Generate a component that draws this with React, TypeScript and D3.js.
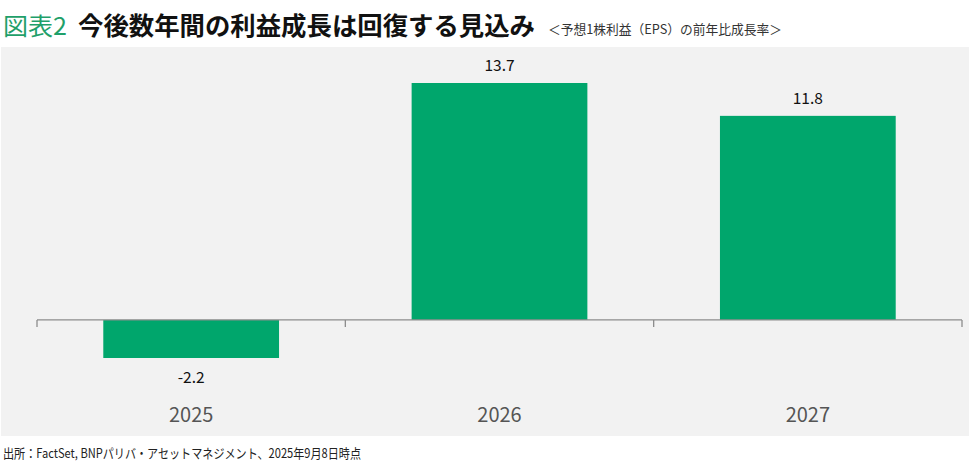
import React from "react";
import * as d3 from "d3";

const categories = ["2025", "2026", "2027"];
const values = [-2.2, 13.7, 11.8];
const valueLabels = ["-2.2", "13.7", "11.8"];

const W = 969;
const H = 465;

export default function App() {
  const x = d3.scaleBand<string>().domain(categories).range([37, 962]).paddingInner(0.43).paddingOuter(0.215);
  const y = d3.scaleLinear().domain([-2.2, 13.7]).range([358, 83]);
  const y0 = y(0);
  const bandStep = (962 - 37) / categories.length;
  const ticks = d3.range(categories.length + 1).map((i) => 37 + i * bandStep);
  const font = "'Noto Sans CJK JP', 'Noto Sans', sans-serif";

  return (
    <svg width={W} height={H} style={{ position: "absolute", left: 0, top: 0, background: "#fff" }}>
      <rect x={1} y={47} width={968} height={389} fill="#f2f2f2" />
      <text x={3} y={35} fontFamily={font} fontSize={24} fill="#1fa06a" textLength={64} lengthAdjust="spacingAndGlyphs">図表2</text>
      <text x={78} y={35} fontFamily={font} fontSize={25} fontWeight={700} fill="#111" textLength={457} lengthAdjust="spacingAndGlyphs">今後数年間の利益成長は回復する見込み</text>
      <text x={548} y={34} fontFamily={font} fontSize={13} fill="#333" textLength={234} lengthAdjust="spacingAndGlyphs">＜予想1株利益（EPS）の前年比成長率＞</text>

      {categories.map((c, i) => {
        const v = values[i];
        const top = Math.min(y(v), y0);
        const h = Math.abs(y(v) - y0);
        return <rect key={c} x={x(c)} y={top} width={x.bandwidth()} height={h} fill="#00a66c" />;
      })}

      <line x1={37} x2={962} y1={y0} y2={y0} stroke="#8c8c8c" strokeWidth={1.3} />
      {ticks.map((t, i) => (
        <line key={i} x1={t} x2={t} y1={y0} y2={y0 + 7} stroke="#8c8c8c" strokeWidth={1.3} />
      ))}

      {categories.map((c, i) => {
        const v = values[i];
        const cx = (x(c) as number) + x.bandwidth() / 2;
        const ly = v >= 0 ? y(v) - 12 : y(v) + 25;
        return (
          <text key={c} x={cx} y={ly} textAnchor="middle" fontFamily={font} fontSize={15.5} fill="#111">{valueLabels[i]}</text>
        );
      })}

      {categories.map((c) => (
        <text key={c} x={(x(c) as number) + x.bandwidth() / 2} y={422} textAnchor="middle" fontFamily={font} fontSize={20} fill="#555">{c}</text>
      ))}

      <text x={3} y={458} fontFamily={font} fontSize={13} fill="#222" textLength={358} lengthAdjust="spacingAndGlyphs">出所：FactSet, BNPパリバ・アセットマネジメント、2025年9月8日時点</text>
    </svg>
  );
}
